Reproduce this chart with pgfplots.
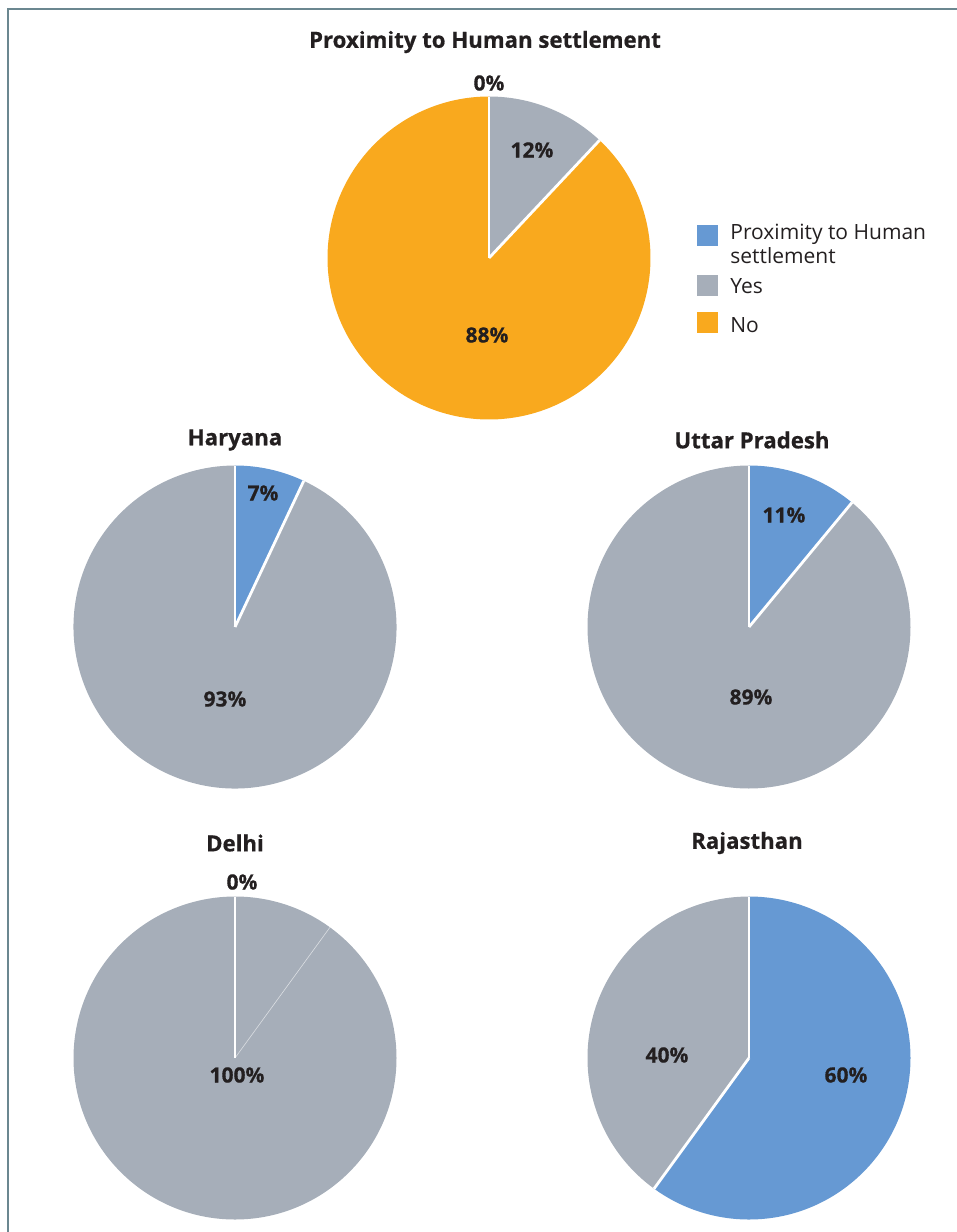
\documentclass[border=0pt]{standalone}
\usepackage{pgfplots}
\pgfplotsset{compat=1.18}
\usepackage{fontspec}
\setmainfont{Open Sans}[BoldFeatures={FakeBold=0.6}]
\definecolor{cblue}{HTML}{6699D3}
\definecolor{cgrey}{HTML}{A6AEB9}
\definecolor{corange}{HTML}{F9A91E}
\definecolor{ctext}{HTML}{231F20}
\definecolor{cframe}{HTML}{6B8790}
\newcommand{\R}{80.75pt}
% \slice{cx}{cy}{start %}{end %}{colour}
\newcommand{\slice}[5]{\fill[#5] (axis cs:#1,#2) -- ++({90-3.6*#3}:\R) arc[start angle={90-3.6*#3}, end angle={90-3.6*#4}, radius=\R] -- cycle;}
% \sep{cx}{cy}{cumulative %}
\newcommand{\sep}[3]{\draw[white,line width=1.4pt] (axis cs:#1,#2) -- ++({90-3.6*#3}:\R);}
\newcommand{\ttl}[3]{\node[font=\bfseries\fontsize{11.1}{13}\selectfont,text=ctext] at (axis cs:#1,#2) {#3};}
\newcommand{\lab}[3]{\node[font=\bfseries\fontsize{10.5}{12}\selectfont,text=ctext] at (axis cs:#1,#2) {#3};}
\begin{document}
\begin{tikzpicture}
\begin{axis}[
  scale only axis, width=478.5pt, height=616pt,
  xmin=0, xmax=957, ymin=0, ymax=1232, y dir=reverse,
  hide axis, clip=false]
% frame
\draw[cframe,line width=0.8pt] (axis cs:8,1232) -- (axis cs:8,9) -- (axis cs:957,9);
% ---- overall: Proximity 0%, Yes 12%, No 88%
\slice{489}{258}{0}{0}{cblue}
\slice{489}{258}{0}{12}{cgrey}
\slice{489}{258}{12}{100}{corange}
\sep{489}{258}{0}\sep{489}{258}{12}
% ---- Haryana: 7% / 93%
\slice{235}{627}{0}{7}{cblue}
\slice{235}{627}{7}{100}{cgrey}
\sep{235}{627}{0}\sep{235}{627}{7}
% ---- Uttar Pradesh: 11% / 89%
\slice{749}{627}{0}{11}{cblue}
\slice{749}{627}{11}{100}{cgrey}
\sep{749}{627}{0}\sep{749}{627}{11}
% ---- Delhi: 0% / 100%
\slice{235}{1058}{0}{100}{cgrey}
\draw[white,opacity=0.6,line width=0.3pt] (axis cs:235,1058) -- ++({90-3.6*10}:\R);
\sep{235}{1058}{0}
% ---- Rajasthan: 60% / 40%
\slice{749}{1058}{0}{60}{cblue}
\slice{749}{1058}{60}{100}{cgrey}
\sep{749}{1058}{0}\sep{749}{1058}{60}
% titles
\ttl{485}{42}{Proximity to Human settlement}
\ttl{235}{440}{Haryana}
\ttl{752}{440}{Uttar Pradesh}
\ttl{235}{843}{Delhi}
\ttl{747}{843}{Rajasthan}
% labels
\lab{489}{83}{0\%}
\lab{532}{150}{12\%}
\lab{487}{335}{88\%}
\lab{263}{493}{7\%}
\lab{225}{699}{93\%}
\lab{784}{515}{11\%}
\lab{751}{697}{89\%}
\lab{242}{882}{0\%}
\lab{237}{1075}{100\%}
\lab{667}{1055}{40\%}
\lab{846}{1075}{60\%}
% legend
\fill[cblue] (axis cs:697,225) rectangle (axis cs:718,246);
\fill[cgrey] (axis cs:697,275) rectangle (axis cs:718,296);
\fill[corange] (axis cs:697,312) rectangle (axis cs:718,333);
\node[anchor=base west,inner sep=0pt,font=\fontsize{10.5}{12}\selectfont,text=ctext] at (axis cs:730,239) {Proximity to Human};
\node[anchor=base west,inner sep=0pt,font=\fontsize{10.5}{12}\selectfont,text=ctext] at (axis cs:730,263) {settlement};
\node[anchor=base west,inner sep=0pt,font=\fontsize{10.5}{12}\selectfont,text=ctext] at (axis cs:730,293) {Yes};
\node[anchor=base west,inner sep=0pt,font=\fontsize{10.5}{12}\selectfont,text=ctext] at (axis cs:730,332) {No};
\end{axis}
\pgfresetboundingbox
\path (current axis.south west) rectangle (current axis.north east);
\end{tikzpicture}
\end{document}
